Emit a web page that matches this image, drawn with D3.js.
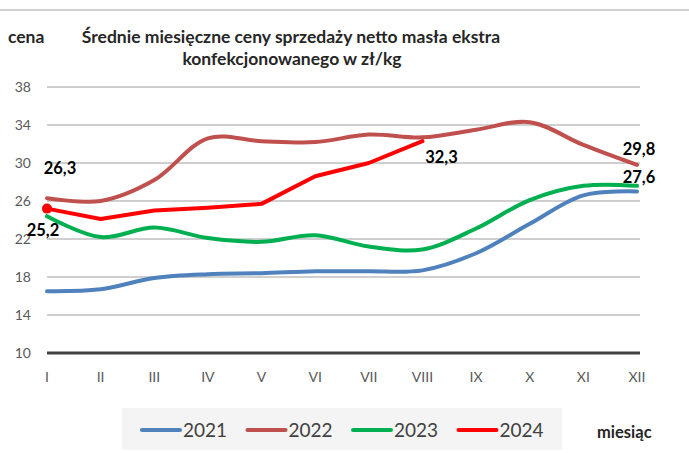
<!DOCTYPE html>
<html>
<head>
<meta charset="utf-8">
<script src="https://cdn.jsdelivr.net/npm/d3@7"></script>
<style>
  body { margin: 0; background: #fff; }
  svg { display: block; font-family: Lato, "Open Sans", sans-serif; }
</style>
</head>
<body>
<div id="chart"></div>
<script>
const months = ['I', 'II', 'III', 'IV', 'V', 'VI', 'VII', 'VIII', 'IX', 'X', 'XI', 'XII'];
const y2021 = [16.5, 16.7, 17.9, 18.3, 18.4, 18.6, 18.6, 18.7, 20.5, 23.6, 26.6, 27.0];
const y2022 = [26.3, 26.0, 28.2, 32.6, 32.3, 32.2, 33.0, 32.7, 33.5, 34.3, 31.9, 29.8];
const y2023 = [24.4, 22.2, 23.2, 22.1, 21.7, 22.4, 21.2, 20.9, 23.1, 26.1, 27.6, 27.6];
const y2024 = [25.2, 24.1, 25.0, 25.3, 25.7, 28.6, 30.0, 32.3];
const y_ticks = [10, 14, 18, 22, 26, 30, 34, 38];

const chart_width = 689;
const chart_height = 453;

const series = [
    { name: '2021', values: y2021, color: '#4f81bd', smooth: true },
    { name: '2022', values: y2022, color: '#c0504d', smooth: true },
    { name: '2023', values: y2023, color: '#00b050', smooth: true },
    { name: '2024', values: y2024, color: '#ff0000', smooth: false }
];

const svg = d3.select('#chart')
    .append('svg')
    .attr('width', chart_width)
    .attr('height', chart_height);

// top border
svg.append('line')
    .attr('x1', 0).attr('x2', chart_width)
    .attr('y1', 10).attr('y2', 10)
    .attr('stroke', '#d0d0d0')
    .attr('stroke-width', 2);

// scales
const x_scale = d3.scalePoint()
    .domain(months)
    .range([47, 637]);

const y_scale = d3.scaleLinear()
    .domain([10, 38])
    .range([353, 87]);

// gridlines
svg.selectAll('.grid')
    .data(y_ticks.filter(d => d !== 10))
    .enter()
    .append('line')
    .attr('class', 'grid')
    .attr('x1', 47).attr('x2', 640)
    .attr('y1', d => y_scale(d)).attr('y2', d => y_scale(d))
    .attr('stroke', '#bfbfbf')
    .attr('stroke-width', 1.5);

svg.append('line')
    .attr('x1', 47).attr('x2', 640)
    .attr('y1', y_scale(10)).attr('y2', y_scale(10))
    .attr('stroke', '#404040')
    .attr('stroke-width', 3);

// y labels
svg.selectAll('.ylab')
    .data(y_ticks)
    .enter()
    .append('text')
    .attr('class', 'ylab')
    .attr('x', 31)
    .attr('y', d => y_scale(d) + 5)
    .attr('text-anchor', 'end')
    .attr('font-size', 14)
    .attr('fill', '#595959')
    .text(d => d);

// x labels
svg.selectAll('.xlab')
    .data(months)
    .enter()
    .append('text')
    .attr('class', 'xlab')
    .attr('x', d => x_scale(d))
    .attr('y', 382)
    .attr('text-anchor', 'middle')
    .attr('font-size', 14)
    .attr('fill', '#595959')
    .text(d => d);

// lines
series.forEach(s => {
    const line = d3.line()
        .x((d, i) => x_scale(months[i]))
        .y(d => y_scale(d))
        .curve(s.smooth ? d3.curveCatmullRom.alpha(0.5) : d3.curveLinear);
    svg.append('path')
        .datum(s.values)
        .attr('d', line)
        .attr('fill', 'none')
        .attr('stroke', s.color)
        .attr('stroke-width', 4)
        .attr('stroke-linejoin', 'round')
        .attr('stroke-linecap', 'round');
});

// marker on first 2024 point
svg.append('circle')
    .attr('cx', x_scale('I'))
    .attr('cy', y_scale(y2024[0]))
    .attr('r', 5)
    .attr('fill', '#ff0000');

// data labels
const fmt = v => String(v.toFixed(1)).replace('.', ',');
const labels = [
    { v: y2022[0], x: x_scale('I') + 13, y: y_scale(y2022[0]) - 24 },
    { v: y2024[0], x: x_scale('I') - 4, y: y_scale(y2024[0]) + 27 },
    { v: y2024[7], x: x_scale('VIII') + 19, y: y_scale(y2024[7]) + 22 },
    { v: y2022[11], x: x_scale('XII') + 2, y: y_scale(y2022[11]) - 10 },
    { v: y2023[11], x: x_scale('XII') + 2, y: y_scale(y2023[11]) - 3 }
];
svg.selectAll('.dlab')
    .data(labels)
    .enter()
    .append('text')
    .attr('class', 'dlab')
    .attr('x', d => d.x)
    .attr('y', d => d.y)
    .attr('text-anchor', 'middle')
    .attr('font-size', 16.5)
    .attr('font-weight', 'bold')
    .attr('fill', '#000')
    .text(d => fmt(d.v));

// titles
svg.append('text')
    .attr('x', 8).attr('y', 43)
    .attr('font-size', 17.5).attr('font-weight', 'bold')
    .attr('fill', '#262626')
    .text('cena');
svg.append('text')
    .attr('x', 291).attr('y', 43)
    .attr('text-anchor', 'middle')
    .attr('font-size', 17.5).attr('font-weight', 'bold')
    .attr('fill', '#262626')
    .text('Średnie miesięczne ceny sprzedaży netto masła ekstra');
svg.append('text')
    .attr('x', 292).attr('y', 65)
    .attr('text-anchor', 'middle')
    .attr('font-size', 17.5).attr('font-weight', 'bold')
    .attr('fill', '#262626')
    .text('konfekcjonowanego w zł/kg');

// legend
svg.append('rect')
    .attr('x', 122).attr('y', 408)
    .attr('width', 440).attr('height', 42)
    .attr('fill', '#f4f4f4');

const legend = svg.selectAll('.leg')
    .data(series)
    .enter()
    .append('g')
    .attr('class', 'leg')
    .attr('transform', (d, i) => `translate(${142 + i * 105.5},430)`);
legend.append('line')
    .attr('x1', 0).attr('x2', 38)
    .attr('stroke', d => d.color)
    .attr('stroke-width', 4)
    .attr('stroke-linecap', 'round');
legend.append('text')
    .attr('x', 41).attr('y', 7)
    .attr('font-size', 19)
    .attr('fill', '#404040')
    .text(d => d.name);

svg.append('text')
    .attr('x', 597).attr('y', 438)
    .attr('font-size', 16.5).attr('font-weight', 'bold')
    .attr('fill', '#262626')
    .text('miesiąc');
</script>
</body>
</html>
